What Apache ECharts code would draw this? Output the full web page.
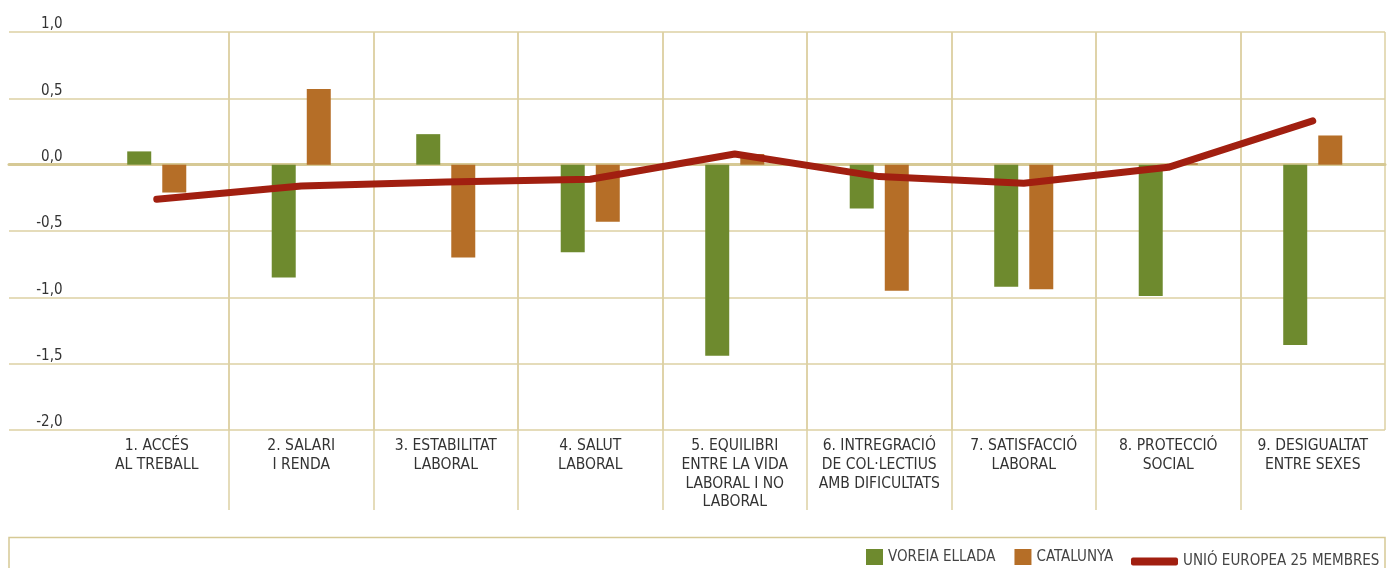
<!DOCTYPE html>
<html><head><meta charset="utf-8">
<script src="https://cdn.jsdelivr.net/npm/echarts@6/dist/echarts.min.js"></script>
<style>html,body{margin:0;padding:0;background:#fff}#c{width:1391px;height:568px}</style>
</head><body><div id="c"></div>
<script>
const categories = [
  "1. ACCÉS\nAL TREBALL",
  "2. SALARI\nI RENDA",
  "3. ESTABILITAT\nLABORAL",
  "4. SALUT\nLABORAL",
  "5. EQUILIBRI\nENTRE LA VIDA\nLABORAL I NO\nLABORAL",
  "6. INTREGRACIÓ\nDE COL·LECTIUS\nAMB DIFICULTATS",
  "7. SATISFACCIÓ\nLABORAL",
  "8. PROTECCIÓ\nSOCIAL",
  "9. DESIGUALTAT\nENTRE SEXES"
];
const voreiaEllada = [0.10, -0.85, 0.23, -0.66, -1.44, -0.33, -0.92, -0.99, -1.36];
const catalunya = [-0.21, 0.57, -0.70, -0.43, 0.08, -0.95, -0.94, 0.01, 0.22];
const ue25 = [-0.26, -0.16, -0.13, -0.11, 0.08, -0.09, -0.14, -0.02, 0.33];
const seriesNames = ["VOREIA ELLADA", "CATALUNYA", "UNIÓ EUROPEA 25 MEMBRES"];
const yMin = -2.0, yMax = 1.0, yStep = 0.5;

const FONT = "'Liberation Sans Narrow', 'DejaVu Sans Condensed', 'Roboto', sans-serif";
const GRIDC = '#ddd1a3';
const chart = echarts.init(document.getElementById('c'), null, {renderer: 'canvas'});
chart.setOption({
  animation: false,
  backgroundColor: '#fff',
  textStyle: {fontFamily: FONT},
  graphic: [{
    type: 'rect', shape: {x: 9, y: 537.5, width: 1376, height: 40},
    style: {fill: 'none', stroke: '#d6c995', lineWidth: 1.5}, silent: true, z: -1
  }],
  legend: [{
    data: [seriesNames[0], seriesNames[1]],
    left: 866, top: 549, itemWidth: 17, itemHeight: 16, itemGap: 19,
    icon: 'rect', padding: 0,
    textStyle: {fontFamily: FONT, fontSize: 15, color: '#444'}
  }, {
    data: [seriesNames[2]],
    left: 1131, top: 554, itemWidth: 47, itemHeight: 8, icon: 'roundRect', padding: 0,
    textStyle: {fontFamily: FONT, fontSize: 15, color: '#444'}
  }],
  grid: [
    {left: 84.5, right: 6, top: 32, bottom: 138},
    {left: 9, right: 6, top: 32, bottom: 138},
    {left: 84.5, right: 6, top: 32, bottom: 58}
  ],
  xAxis: [
    {type: 'category', gridIndex: 0, data: categories,
     axisLine: {show: false}, axisTick: {show: false},
     splitLine: {show: true, showMinLine: false, showMaxLine: true, lineStyle: {color: GRIDC, width: 1.5}},
     axisLabel: {interval: 0, fontFamily: FONT, fontSize: 15.5, lineHeight: 18.7, color: '#333', margin: 7, verticalAlign: 'top'}},
    {type: 'value', gridIndex: 1, min: 0, max: 1, show: true,
     axisLine: {show: true, onZero: true, lineStyle: {color: '#d6c995', width: 3}},
     axisTick: {show: false}, axisLabel: {show: false}, splitLine: {show: false}},
    {type: 'category', gridIndex: 2, data: categories,
     axisLine: {show: false}, axisTick: {show: false}, axisLabel: {show: false},
     splitLine: {show: true, showMinLine: false, showMaxLine: false, lineStyle: {color: GRIDC, width: 1.5}}}
  ],
  yAxis: [
    {type: 'value', gridIndex: 0, min: yMin, max: yMax, interval: yStep,
     axisLine: {show: false}, axisTick: {show: false}, splitLine: {show: false},
     axisLabel: {margin: 22, fontFamily: FONT, fontSize: 15, color: '#333', verticalAlign: 'bottom', padding: 0,
       formatter: v => v.toFixed(1).replace('.', ',')}},
    {type: 'value', gridIndex: 1, min: yMin, max: yMax, interval: yStep,
     axisLine: {show: false}, axisTick: {show: false}, axisLabel: {show: false},
     splitLine: {show: true, lineStyle: {color: GRIDC, width: 1.5}}},
    {type: 'value', gridIndex: 2, min: 0, max: 1, show: false}
  ],
  series: [
    {name: seriesNames[0], type: 'bar', xAxisIndex: 0, yAxisIndex: 0, data: voreiaEllada,
     barWidth: 24, barGap: '46%', itemStyle: {color: '#6e8a2e'}},
    {name: seriesNames[1], type: 'bar', xAxisIndex: 0, yAxisIndex: 0, data: catalunya,
     barWidth: 24, barGap: '46%', itemStyle: {color: '#b56e27'}},
    {name: seriesNames[2], type: 'line', xAxisIndex: 0, yAxisIndex: 0, data: ue25,
     symbol: 'none', z: 5, itemStyle: {color: '#a11f10'},
     lineStyle: {color: '#a11f10', width: 7, cap: 'round', join: 'round'}}
  ]
});
</script></body></html>
